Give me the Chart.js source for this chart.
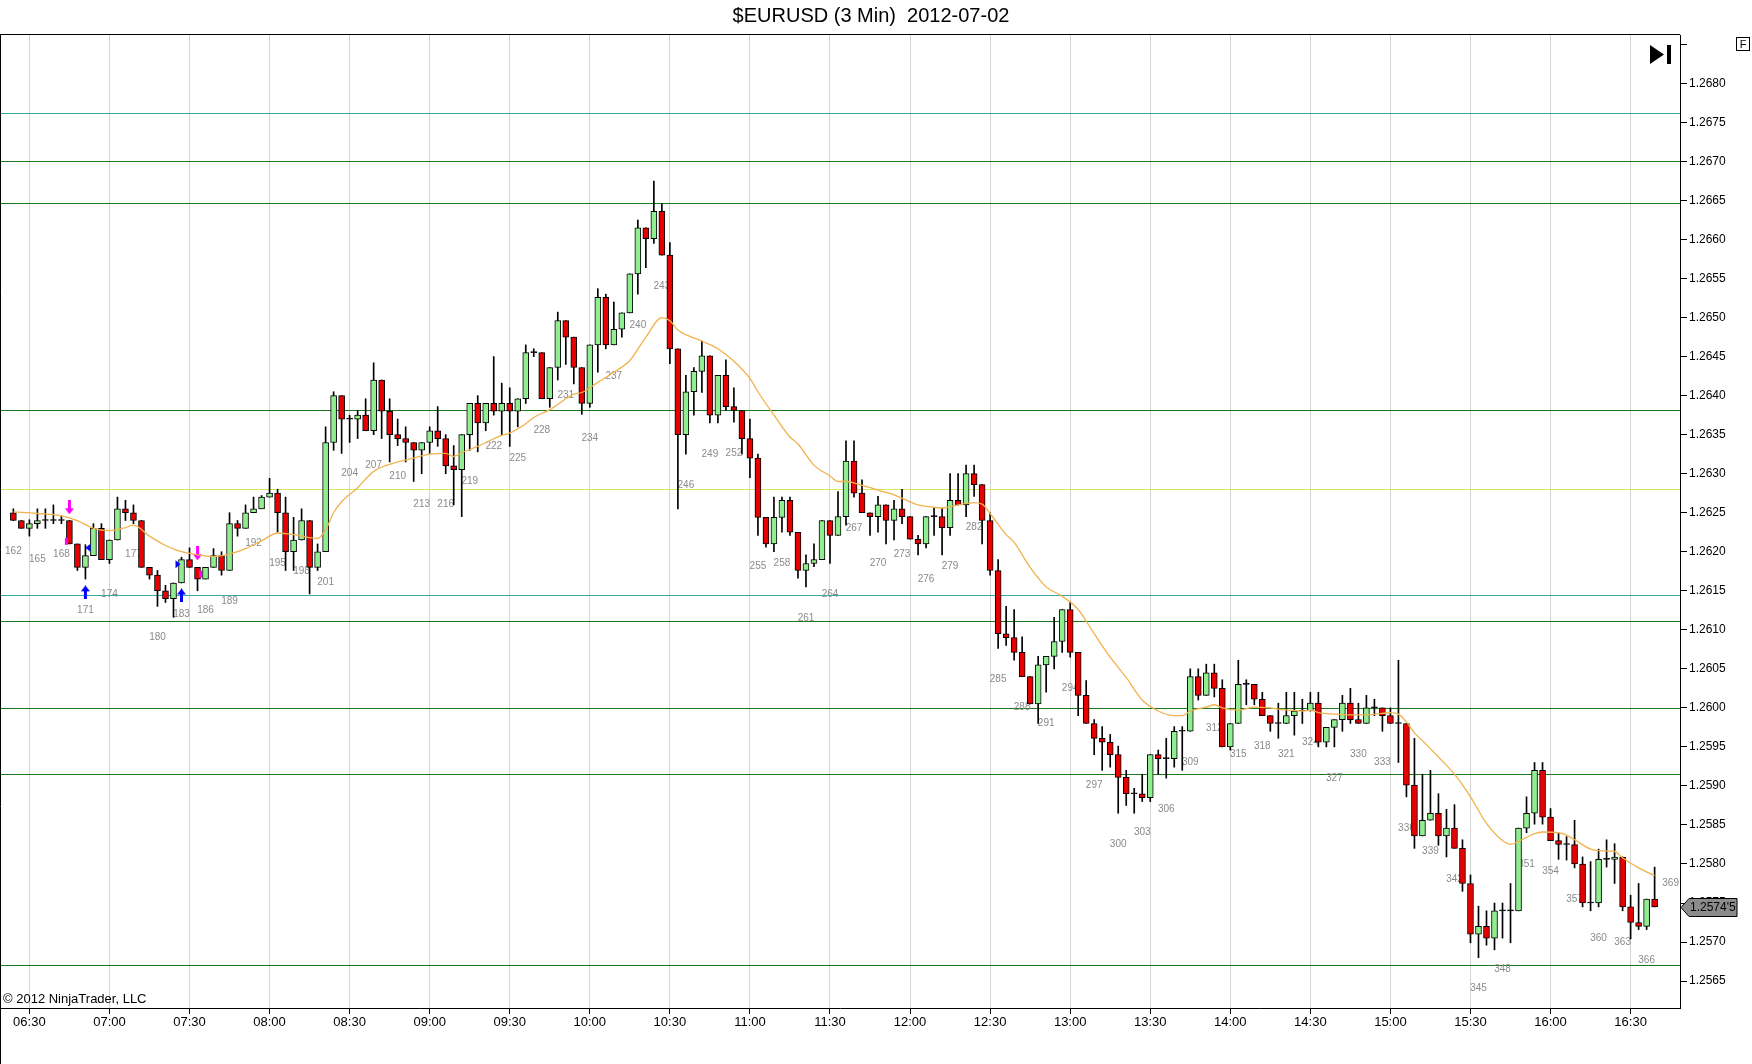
<!DOCTYPE html>
<html>
<head>
<meta charset="utf-8">
<title>$EURUSD (3 Min) 2012-07-02</title>
<script src="https://cdn.jsdelivr.net/npm/chart.js@4.4.1/dist/chart.umd.min.js"></script>
<style>
  html, body { margin: 0; padding: 0; background: #fff; }
  #wrap { width: 1752px; height: 1064px; }
</style>
</head>
<body>
<div id="wrap"><canvas id="priceChart" width="1752" height="1064"></canvas></div>
<script>
// bar numbers run from firstBar upward, one entry per 3 minute bar
const firstBar = 162;
const lastLabelBar = 369;

const opens = [
  1.2625, 1.2624, 1.2623, 1.26236, 1.2624, 1.2624, 1.2624, 1.2624, 1.2621, 1.2618,          // 162
  1.26195, 1.2623, 1.2619, 1.26215, 1.26255, 1.2625, 1.2624, 1.2618, 1.2617, 1.2615,       // 172
  1.2614, 1.2616, 1.2619, 1.2618, 1.26165, 1.2618, 1.26195, 1.26176, 1.26236, 1.2623,      // 182
  1.2625, 1.26255, 1.2627, 1.26275, 1.2625, 1.262, 1.26215, 1.2624, 1.2618, 1.262,         // 192
  1.2634, 1.264, 1.2637, 1.2637, 1.26375, 1.26355, 1.2642, 1.2638, 1.2635, 1.26345,        // 202
  1.2634, 1.2633, 1.2634, 1.26355, 1.26345, 1.2631, 1.26305, 1.2635, 1.2639, 1.26365,      // 212
  1.2639, 1.2638, 1.2639, 1.2638, 1.26396, 1.26455, 1.26455, 1.26396, 1.26436, 1.26496,    // 222
  1.26475, 1.26436, 1.2639, 1.26465, 1.26526, 1.26465, 1.26485, 1.26506, 1.26556, 1.26615, // 232
  1.26601, 1.26636, 1.2658, 1.2646, 1.2635, 1.26405, 1.26431, 1.26451, 1.26375, 1.26426,   // 242
  1.26386, 1.26381, 1.26345, 1.2632, 1.26244, 1.2621, 1.26244, 1.26266, 1.26225, 1.26176,  // 252
  1.26185, 1.2619, 1.2624, 1.26221, 1.26245, 1.26316, 1.26275, 1.2625, 1.26245, 1.2626,    // 262
  1.2624, 1.26255, 1.26245, 1.26216, 1.2621, 1.26245, 1.26245, 1.26231, 1.26266, 1.2626,   // 272
  1.263, 1.26286, 1.2624, 1.26176, 1.26095, 1.2609, 1.26071, 1.2604, 1.26005, 1.26055,     // 282
  1.26066, 1.26085, 1.26126, 1.26071, 1.26016, 1.2598, 1.25961, 1.25956, 1.2594, 1.25911,  // 292
  1.2589, 1.2589, 1.25885, 1.2594, 1.25935, 1.25935, 1.2597, 1.2597, 1.2604, 1.26016,      // 302
  1.26045, 1.26025, 1.2595, 1.2598, 1.2603, 1.2603, 1.26011, 1.2599, 1.2598, 1.2598,       // 312
  1.2599, 1.25996, 1.25996, 1.26006, 1.25956, 1.25975, 1.25985, 1.26006, 1.25985, 1.2598,  // 322
  1.26, 1.26, 1.2599, 1.2598, 1.2598, 1.25901, 1.25836, 1.25856, 1.25865, 1.25836,         // 332
  1.25846, 1.2582, 1.25775, 1.2571, 1.2572, 1.25705, 1.2574, 1.2574, 1.2574, 1.25846,      // 342
  1.25865, 1.2592, 1.2586, 1.2583, 1.25825, 1.25825, 1.258, 1.2575, 1.2575, 1.25806,       // 352
  1.25806, 1.25809, 1.25745, 1.25725, 1.2572, 1.25755                                      // 362
];
const highs = [
  1.26255, 1.2624, 1.26241, 1.26255, 1.26255, 1.2626, 1.26246, 1.2624, 1.2621, 1.26209,
  1.26236, 1.26236, 1.26215, 1.2627, 1.26266, 1.2626, 1.2624, 1.2618, 1.26176, 1.26157,
  1.2616, 1.26193, 1.26205, 1.2618, 1.2618, 1.26204, 1.262, 1.2625, 1.2624, 1.2626,
  1.2627, 1.26272, 1.26294, 1.2628, 1.2627, 1.26244, 1.26255, 1.2624, 1.2621, 1.2636,
  1.26405, 1.264, 1.26375, 1.26381, 1.26396, 1.26442, 1.2642, 1.26396, 1.2637, 1.2636,
  1.2634, 1.2634, 1.2636, 1.26386, 1.2635, 1.26336, 1.2635, 1.2639, 1.264, 1.2639,
  1.2645, 1.26416, 1.2641, 1.26396, 1.26465, 1.2646, 1.26455, 1.26436, 1.26507, 1.26496,
  1.26475, 1.26436, 1.26465, 1.26537, 1.2653, 1.2652, 1.26506, 1.26556, 1.26625, 1.26615,
  1.26675, 1.26646, 1.26596, 1.2646, 1.26426, 1.26436, 1.2647, 1.26451, 1.26426, 1.26446,
  1.2641, 1.26381, 1.2637, 1.26325, 1.26244, 1.2627, 1.2627, 1.2627, 1.26225, 1.26196,
  1.2621, 1.2624, 1.2624, 1.26277, 1.26342, 1.26342, 1.26292, 1.2625, 1.26271, 1.2626,
  1.26266, 1.2628, 1.26245, 1.26221, 1.26245, 1.26256, 1.26256, 1.263, 1.263, 1.26311,
  1.26311, 1.26286, 1.2625, 1.2619, 1.2613, 1.26126, 1.26091, 1.2604, 1.26066, 1.26066,
  1.26116, 1.26126, 1.26136, 1.26071, 1.26035, 1.25985, 1.25976, 1.25966, 1.25951, 1.2592,
  1.25897, 1.25915, 1.2594, 1.25946, 1.25961, 1.25976, 1.25976, 1.2605, 1.2605, 1.26056,
  1.26056, 1.26036, 1.2598, 1.26061, 1.26036, 1.2603, 1.2602, 1.2599, 1.26006, 1.2602,
  1.2602, 1.26011, 1.2602, 1.2602, 1.25975, 1.25985, 1.26016, 1.26025, 1.26006, 1.26016,
  1.26011, 1.26, 1.26, 1.26061, 1.2598, 1.25961, 1.25915, 1.2592, 1.2589, 1.2587,
  1.25876, 1.25831, 1.25786, 1.25746, 1.2574, 1.2575, 1.2575, 1.25775, 1.25846, 1.25886,
  1.2593, 1.2593, 1.25871, 1.2584, 1.25835, 1.25856, 1.25809, 1.25803, 1.25819, 1.25831,
  1.25826, 1.25809, 1.2576, 1.25775, 1.25755, 1.25796
];
const lows = [
  1.2624, 1.2623, 1.2622, 1.2623, 1.2623, 1.26236, 1.26236, 1.2621, 1.26176, 1.26165,
  1.26195, 1.2619, 1.26185, 1.26215, 1.2624, 1.26236, 1.2618, 1.26165, 1.2613, 1.26135,
  1.26116, 1.2616, 1.2618, 1.2615, 1.26165, 1.2618, 1.2617, 1.26176, 1.2622, 1.2623,
  1.2625, 1.26255, 1.2627, 1.26225, 1.26176, 1.26176, 1.26215, 1.26146, 1.26176, 1.262,
  1.2633, 1.26326, 1.2634, 1.26345, 1.26355, 1.2635, 1.26345, 1.26315, 1.26336, 1.26315,
  1.2629, 1.263, 1.26326, 1.26335, 1.263, 1.2626, 1.26245, 1.2633, 1.26328, 1.26355,
  1.26375, 1.2635, 1.26335, 1.2636, 1.2639, 1.2645, 1.26396, 1.26385, 1.2642, 1.2644,
  1.26415, 1.26376, 1.26385, 1.2643, 1.2646, 1.26465, 1.26475, 1.26506, 1.2653, 1.26564,
  1.26595, 1.2658, 1.26441, 1.26255, 1.26325, 1.26375, 1.26404, 1.26365, 1.26365, 1.26381,
  1.26366, 1.26325, 1.26295, 1.26221, 1.26206, 1.262, 1.26225, 1.26221, 1.26166, 1.26155,
  1.26181, 1.2619, 1.26185, 1.26221, 1.26234, 1.2627, 1.2625, 1.26221, 1.26225, 1.2621,
  1.26215, 1.26236, 1.26216, 1.26196, 1.26205, 1.26221, 1.26196, 1.26221, 1.2626, 1.26245,
  1.26271, 1.2621, 1.2617, 1.26076, 1.2608, 1.26061, 1.2604, 1.26005, 1.2598, 1.2602,
  1.2605, 1.26071, 1.26065, 1.2599, 1.2598, 1.2594, 1.2592, 1.25924, 1.25865, 1.25875,
  1.25865, 1.2588, 1.2588, 1.25915, 1.2591, 1.25924, 1.2592, 1.2597, 1.2601, 1.26016,
  1.26014, 1.2595, 1.25946, 1.2598, 1.26004, 1.26004, 1.2599, 1.2597, 1.25961, 1.2598,
  1.25965, 1.2598, 1.25996, 1.2595, 1.2595, 1.2595, 1.2597, 1.2598, 1.2598, 1.2598,
  1.2599, 1.2597, 1.2598, 1.2593, 1.25886, 1.2582, 1.25836, 1.25856, 1.25824, 1.25809,
  1.2582, 1.25765, 1.25699, 1.2568, 1.25696, 1.2569, 1.25705, 1.25699, 1.2574, 1.2584,
  1.25851, 1.25851, 1.2583, 1.25806, 1.25805, 1.25795, 1.25745, 1.2574, 1.25745, 1.25796,
  1.25775, 1.2574, 1.25704, 1.25716, 1.25716, 1.25745
];
const closes = [
  1.2624, 1.2623, 1.26236, 1.2624, 1.2624, 1.2624, 1.2624, 1.2621, 1.2618, 1.26195,
  1.2623, 1.2619, 1.26215, 1.26255, 1.2625, 1.2624, 1.2618, 1.2617, 1.2615, 1.2614,
  1.2616, 1.2619, 1.2618, 1.26165, 1.2618, 1.26195, 1.26176, 1.26236, 1.2623, 1.2625,
  1.26255, 1.2627, 1.26275, 1.2625, 1.262, 1.26215, 1.2624, 1.2618, 1.262, 1.2634,
  1.264, 1.2637, 1.2637, 1.26375, 1.26355, 1.2642, 1.2638, 1.2635, 1.26345, 1.2634,
  1.2633, 1.2634, 1.26355, 1.26345, 1.2631, 1.26305, 1.2635, 1.2639, 1.26365, 1.2639,
  1.2638, 1.2639, 1.2638, 1.26396, 1.26455, 1.26455, 1.26396, 1.26436, 1.26496, 1.26475,
  1.26436, 1.2639, 1.26465, 1.26526, 1.26465, 1.26485, 1.26506, 1.26556, 1.26615, 1.26601,
  1.26636, 1.2658, 1.2646, 1.2635, 1.26405, 1.26431, 1.26451, 1.26375, 1.26426, 1.26386,
  1.26381, 1.26345, 1.2632, 1.26244, 1.2621, 1.26244, 1.26266, 1.26225, 1.26176, 1.26185,
  1.2619, 1.2624, 1.26221, 1.26245, 1.26316, 1.26275, 1.2625, 1.26245, 1.2626, 1.2624,
  1.26255, 1.26245, 1.26216, 1.2621, 1.26245, 1.26245, 1.26231, 1.26266, 1.2626, 1.263,
  1.26286, 1.2624, 1.26176, 1.26095, 1.2609, 1.26071, 1.2604, 1.26005, 1.26055, 1.26066,
  1.26085, 1.26126, 1.26071, 1.26016, 1.2598, 1.25961, 1.25956, 1.2594, 1.25911, 1.2589,
  1.2589, 1.25885, 1.2594, 1.25935, 1.25935, 1.2597, 1.2597, 1.2604, 1.26016, 1.26045,
  1.26025, 1.2595, 1.2598, 1.2603, 1.2603, 1.26011, 1.2599, 1.2598, 1.2598, 1.2599,
  1.25996, 1.25996, 1.26006, 1.25956, 1.25975, 1.25985, 1.26006, 1.25985, 1.2598, 1.26,
  1.26, 1.2599, 1.2598, 1.2598, 1.25901, 1.25836, 1.25856, 1.25865, 1.25836, 1.25846,
  1.2582, 1.25775, 1.2571, 1.2572, 1.25705, 1.2574, 1.2574, 1.2574, 1.25846, 1.25865,
  1.2592, 1.2586, 1.2583, 1.25825, 1.25825, 1.258, 1.2575, 1.2575, 1.25806, 1.25806,
  1.25809, 1.25745, 1.25725, 1.2572, 1.25755, 1.25745
];

// moving average line at these bars
const maBars = [
  162, 165, 168, 170, 172, 174, 176, 177, 179, 181, 183, 185, 187, 189, 191, 193, 195, 197, 199, 200,
  201, 202, 203, 205, 207, 210, 212, 214, 216, 217, 218, 220, 221, 223, 224, 226, 227, 229, 231, 232,
  233, 235, 237, 239, 241, 243, 244, 245, 248, 250, 252, 254, 255, 257, 259, 260, 262, 264, 265, 266,
  268, 270, 272, 275, 277, 278, 280, 282, 283, 284, 286, 287, 289, 291, 293, 295, 297, 299, 301, 303,
  305, 307, 308, 309, 311, 312, 313, 315, 317, 319, 321, 323, 324, 325, 327, 329, 331, 333, 334, 335,
  336, 337, 338, 340, 342, 344, 346, 348, 349, 350, 352, 353, 355, 356, 357, 359, 360, 362, 363, 365, 367
];
const maValues = [
  1.26251, 1.26249, 1.26246, 1.2624, 1.2623, 1.26227, 1.26231, 1.26234, 1.2622, 1.26208,
  1.262, 1.26196, 1.26194, 1.26197, 1.26204, 1.26214, 1.26224, 1.26222, 1.26218, 1.26217,
  1.26228, 1.2625, 1.26264, 1.26282, 1.26303, 1.26315, 1.2632, 1.26325, 1.26326, 1.26322,
  1.26327, 1.26335, 1.2634, 1.26349, 1.26352, 1.26364, 1.26372, 1.26382, 1.26396, 1.26402,
  1.26404, 1.26417, 1.2643, 1.26445, 1.26475, 1.265, 1.26496, 1.26484, 1.2647, 1.2646,
  1.26444, 1.26422, 1.26405, 1.26375, 1.26347, 1.26338, 1.26311, 1.26297, 1.2629, 1.2629,
  1.26285, 1.26279, 1.26273, 1.2626, 1.26257, 1.26256, 1.2626, 1.26263, 1.26261, 1.26249,
  1.26222, 1.26212, 1.2618, 1.26155, 1.26143, 1.26126, 1.26095, 1.26065, 1.26039, 1.2601,
  1.25996, 1.2599, 1.2599, 1.25996, 1.26001, 1.26004, 1.26, 1.25997, 1.26001, 1.26,
  1.25997, 1.25996, 1.25997, 1.25994, 1.25992, 1.25991, 1.25991, 1.25993, 1.25994, 1.25992,
  1.25982, 1.25968, 1.25958, 1.25937, 1.25915, 1.25886, 1.25852, 1.2583, 1.25825, 1.25829,
  1.25839, 1.25841, 1.2584, 1.25837, 1.25831, 1.25819, 1.25817, 1.25816, 1.25808, 1.25795, 1.25785
];

// horizontal price levels
const levelPrices = [1.26762, 1.26700, 1.26647, 1.26381, 1.26281, 1.26145, 1.26111, 1.26000, 1.25915, 1.25670];
const levelKinds  = ['teal', 'green', 'green', 'green', 'yellow', 'teal', 'green', 'green', 'green', 'green'];

// trade markers
const downArrowBars = [169, 185];
const downArrowPrices = [1.26257, 1.26198];
const upArrowBars = [171, 183];
const upArrowPrices = [1.26148, 1.26144];
const flagBars = [169, 185];
const flagPrices = [1.26214, 1.26172];
const pointerBars = [171, 183];
const pointerPrices = [1.26205, 1.26184];

// axes
const timeTickBars = [164, 174, 184, 194, 204, 214, 224, 234, 244, 254, 264, 274, 284, 294, 304, 314, 324, 334, 344, 354, 364];
const timeLabels = ['06:30', '07:00', '07:30', '08:00', '08:30', '09:00', '09:30', '10:00', '10:30', '11:00', '11:30',
                    '12:00', '12:30', '13:00', '13:30', '14:00', '14:30', '15:00', '15:30', '16:00', '16:30'];
const priceTicks = [1.2565, 1.2570, 1.2575, 1.2580, 1.2585, 1.2590, 1.2595, 1.2600, 1.2605, 1.2610, 1.2615, 1.2620,
                    1.2625, 1.2630, 1.2635, 1.2640, 1.2645, 1.2650, 1.2655, 1.2660, 1.2665, 1.2670, 1.2675, 1.2680, 1.2685];
const lastPriceText = "1.2574'5";

const UP = '#90ee90';
const DOWN = '#e60000';
const FONT = '"Liberation Sans", Arial, sans-serif';
const levelColors = { teal: '#36a8a8', green: '#1e781e', yellow: '#d6e55c' };

const bars = opens.map((o, i) => firstBar + i);
const bodyData = bars.map((n, i) => ({ x: n, y: [opens[i], closes[i]] }));
const wickData = bars.map((n, i) => ({ x: n, y: [lows[i], highs[i]] }));
const bodyColors = bars.map((n, i) => closes[i] > opens[i] ? UP : (closes[i] < opens[i] ? DOWN : '#000'));

function makeArrow(color, down) {
    const c = document.createElement('canvas');
    c.width = 9;
    c.height = 14;
    const g = c.getContext('2d');
    g.fillStyle = color;
    g.beginPath();
    // drawn pointing up, flipped for the down arrow
    const pts = [[4.5, 0], [9, 6], [6, 6], [6, 14], [3, 14], [3, 6], [0, 6]];
    pts.forEach(([px, py], k) => {
        const yy = down ? 14 - py : py;
        if (k === 0) g.moveTo(px, yy); else g.lineTo(px, yy);
    });
    g.closePath();
    g.fill();
    return c;
}

const decor = {
    id: 'decor',
    beforeDraw(chart) {
        const c = chart.ctx;
        c.save();
        c.fillStyle = '#fff';
        c.fillRect(0, 0, chart.width, chart.height);
        c.restore();
    },
    beforeDatasetsDraw(chart) {
        const { ctx, chartArea: a, scales: { x, y } } = chart;
        ctx.save();
        ctx.lineWidth = 1;
        levelPrices.forEach((p, i) => {
            const py = Math.round(y.getPixelForValue(p)) + 0.5;
            ctx.strokeStyle = levelColors[levelKinds[i]];
            ctx.beginPath();
            ctx.moveTo(a.left, py);
            ctx.lineTo(a.right, py);
            ctx.stroke();
        });
        // bar numbers every 3 bars, under the low
        ctx.fillStyle = '#8a8a8a';
        ctx.font = '10px ' + FONT;
        ctx.textAlign = 'center';
        ctx.textBaseline = 'middle';
        for (let n = firstBar; n <= lastLabelBar; n += 3) {
            const i = n - firstBar;
            const py = i < lows.length
                ? y.getPixelForValue(lows[i]) + 31
                : y.getPixelForValue(highs[highs.length - 1]) + 16;
            ctx.fillText(String(n), x.getPixelForValue(n), py);
        }
        ctx.restore();
    },
    afterDatasetsDraw(chart) {
        const { ctx, scales: { x, y } } = chart;
        ctx.save();
        // small magenta flags on the body edge
        ctx.fillStyle = '#ff00ff';
        flagBars.forEach((n, i) => {
            const cx = x.getPixelForValue(n);
            const cy = y.getPixelForValue(flagPrices[i]);
            const left = i === 0 ? cx - 4.5 : cx + 1.5;
            ctx.fillRect(left, cy - 3, 3, 7);
        });
        // blue pointers
        ctx.fillStyle = '#0000ff';
        pointerBars.forEach((n, i) => {
            const cx = x.getPixelForValue(n);
            const cy = y.getPixelForValue(pointerPrices[i]);
            ctx.beginPath();
            if (i === 0) {
                ctx.moveTo(cx, cy); ctx.lineTo(cx + 5, cy - 4); ctx.lineTo(cx + 5, cy + 4);
            } else {
                ctx.moveTo(cx - 1, cy); ctx.lineTo(cx - 6, cy - 4); ctx.lineTo(cx - 6, cy + 4);
            }
            ctx.closePath();
            ctx.fill();
        });
        ctx.restore();
    },
    afterDraw(chart) {
        const { ctx, chartArea: a, scales: { y } } = chart;
        ctx.save();
        // title
        ctx.fillStyle = '#000';
        ctx.font = '20px ' + FONT;
        ctx.textAlign = 'center';
        ctx.textBaseline = 'middle';
        ctx.fillText('$EURUSD (3 Min)  2012-07-02', 871, 16);

        // frame
        ctx.strokeStyle = '#000';
        ctx.lineWidth = 1;
        ctx.beginPath();
        ctx.moveTo(0, a.top - 0.5);
        ctx.lineTo(a.right, a.top - 0.5);
        ctx.moveTo(0.5, a.top - 0.5);
        ctx.lineTo(0.5, chart.height);
        ctx.stroke();

        // copyright
        ctx.font = '13px ' + FONT;
        ctx.textAlign = 'left';
        ctx.fillText('\u00a9 2012 NinjaTrader, LLC', 3, a.bottom - 9);

        // go to last bar icon
        ctx.beginPath();
        ctx.moveTo(1650, 45);
        ctx.lineTo(1664, 54.5);
        ctx.lineTo(1650, 64);
        ctx.closePath();
        ctx.fill();
        ctx.fillRect(1667, 45, 4, 19);

        // F box
        ctx.fillStyle = '#fff';
        ctx.fillRect(1736.5, 37.5, 13, 13);
        ctx.strokeRect(1736.5, 37.5, 13, 13);
        ctx.fillStyle = '#000';
        ctx.font = '11px ' + FONT;
        ctx.textAlign = 'center';
        ctx.fillText('F', 1743, 44.5);

        // last price marker
        const py = Math.round(y.getPixelForValue(closes[closes.length - 1])) + 0.5;
        ctx.beginPath();
        ctx.moveTo(a.right + 1, py);
        ctx.lineTo(a.right + 9, py - 9);
        ctx.lineTo(a.right + 57, py - 9);
        ctx.lineTo(a.right + 57, py + 9);
        ctx.lineTo(a.right + 9, py + 9);
        ctx.closePath();
        ctx.fillStyle = '#8c8c8c';
        ctx.fill();
        ctx.stroke();
        ctx.fillStyle = '#000';
        ctx.font = '12px ' + FONT;
        ctx.textAlign = 'left';
        ctx.fillText(lastPriceText, a.right + 10, py + 0.5);
        ctx.restore();
    }
};

const ctx = document.getElementById('priceChart').getContext('2d');

new Chart(ctx, {
    type: 'bar',
    data: {
        datasets: [
            {
                type: 'line',
                label: 'MA',
                data: maBars.map((n, i) => ({ x: n, y: maValues[i] })),
                borderColor: '#f2b24c',
                borderWidth: 1.3,
                pointRadius: 0,
                fill: false,
                cubicInterpolationMode: 'monotone',
                order: 0
            },
            {
                type: 'scatter',
                label: 'sell',
                data: downArrowBars.map((n, i) => ({ x: n, y: downArrowPrices[i] })),
                pointStyle: makeArrow('#ff00ff', true),
                order: 0
            },
            {
                type: 'scatter',
                label: 'buy',
                data: upArrowBars.map((n, i) => ({ x: n, y: upArrowPrices[i] })),
                pointStyle: makeArrow('#0000ff', false),
                order: 0
            },
            {
                label: 'body',
                data: bodyData,
                backgroundColor: bodyColors,
                borderColor: '#000',
                borderWidth: 1,
                borderSkipped: false,
                barThickness: 6,
                minBarLength: 1,
                grouped: false,
                order: 1
            },
            {
                label: 'wick',
                data: wickData,
                backgroundColor: '#000',
                borderWidth: 0,
                barThickness: 1,
                grouped: false,
                order: 2
            }
        ]
    },
    options: {
        responsive: false,
        animation: false,
        events: [],
        layout: { autoPadding: false, padding: { top: 35, left: 0, right: 0, bottom: 0 } },
        plugins: {
            legend: { display: false },
            tooltip: { enabled: false },
            title: { display: false }
        },
        scales: {
            x: {
                type: 'linear',
                min: 160.33,
                max: 370.17,
                offset: false,
                grid: { offset: false, color: '#d3d3d3', tickColor: '#000', tickLength: 6, drawTicks: true },
                border: { display: true, color: '#000' },
                afterBuildTicks: s => { s.ticks = timeTickBars.map(v => ({ value: v })); },
                afterFit: s => { s.height = 56; },
                ticks: {
                    autoSkip: false,
                    maxRotation: 0,
                    padding: 1,
                    color: '#000',
                    font: { family: FONT, size: 13 },
                    callback: (v, i) => timeLabels[i]
                }
            },
            y: {
                type: 'linear',
                position: 'right',
                min: 1.256155,
                max: 1.26862,
                grid: { drawOnChartArea: false, drawTicks: true, tickLength: 7, tickColor: '#000' },
                border: { display: true, color: '#000' },
                afterBuildTicks: s => { s.ticks = priceTicks.map(v => ({ value: v })); },
                afterFit: s => { s.width = 72; },
                ticks: {
                    autoSkip: false,
                    padding: 2,
                    color: '#000',
                    font: { family: FONT, size: 12 },
                    callback: v => v > 1.2682 ? '' : v.toFixed(4)
                }
            }
        }
    },
    plugins: [decor]
});
</script>
</body>
</html>
